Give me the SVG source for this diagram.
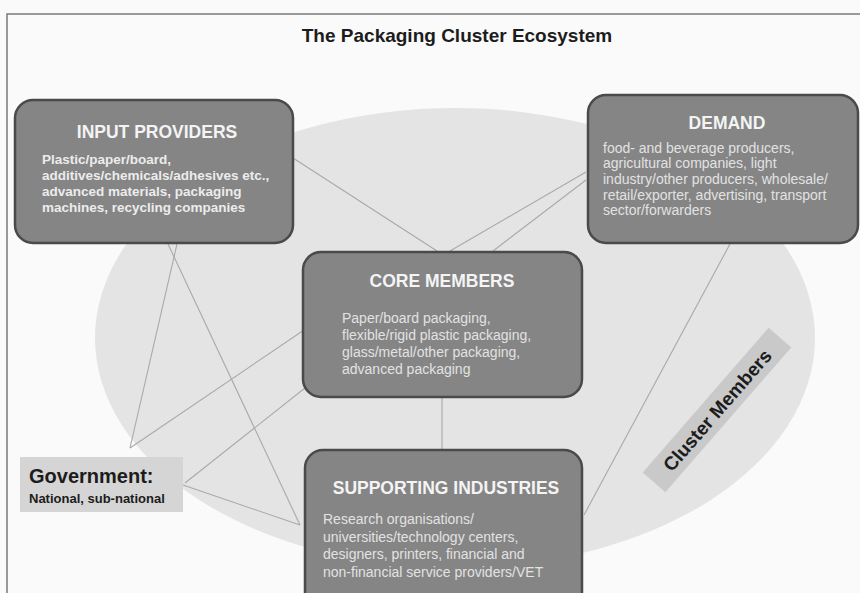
<svg xmlns="http://www.w3.org/2000/svg" width="860" height="593" viewBox="0 0 860 593">
<style>
.box{fill:#858585;stroke:#4a4a4a;stroke-width:2.5}
.ttl{font-family:"Liberation Sans",Arial,sans-serif;font-size:17.5px;font-weight:bold;fill:#f4f4f4;text-anchor:middle}
.bd{font-family:"Liberation Sans",Arial,sans-serif;font-size:14px;fill:#e2e2e2}
.bdb{font-family:"Liberation Sans",Arial,sans-serif;font-size:13.5px;fill:#ececec;font-weight:bold}
.dk{font-family:"Liberation Sans",Arial,sans-serif;font-weight:bold;fill:#1c1c1c}
.cn{stroke:#a9a9a9;stroke-width:1.1;fill:none}
</style>
<rect width="860" height="593" fill="#fafafa"/>
<path d="M7 593 V14 H860" fill="none" stroke="#7a7a7a" stroke-width="1.5"/>
<text class="dk" x="457" y="42" font-size="19" text-anchor="middle">The Packaging Cluster Ecosystem</text>
<ellipse cx="455" cy="338" rx="360" ry="230" fill="#e4e4e4"/>
<g id="connectors">
<line class="cn" x1="168" y1="244" x2="300" y2="525"/>
<line class="cn" x1="177" y1="244" x2="130" y2="448"/>
<line class="cn" x1="130" y1="448" x2="304" y2="330"/>
<line class="cn" x1="185" y1="483" x2="305" y2="388"/>
<line class="cn" x1="183" y1="485" x2="300" y2="525"/>
<line class="cn" x1="293" y1="158" x2="437" y2="251"/>
<line class="cn" x1="450" y1="251" x2="586" y2="172"/>
<line class="cn" x1="493" y1="251" x2="586" y2="180"/>
<line class="cn" x1="730" y1="244" x2="584" y2="515"/>
<line class="cn" x1="442" y1="397" x2="442" y2="451"/>
</g>
<g id="input-providers">
<rect class="box" x="15" y="100" width="278" height="143" rx="18"/>
<text class="ttl" x="157" y="138">INPUT PROVIDERS</text>
<text class="bdb" x="42" y="164">Plastic/paper/board,</text>
<text class="bdb" x="42" y="180">additives/chemicals/adhesives etc.,</text>
<text class="bdb" x="42" y="196">advanced materials, packaging</text>
<text class="bdb" x="42" y="212">machines, recycling companies</text>
</g>
<g id="demand">
<rect class="box" x="588" y="95" width="270" height="148" rx="18"/>
<text class="ttl" x="727" y="129" font-size="19.5">DEMAND</text>
<text class="bd" x="603" y="153">food- and beverage producers,</text>
<text class="bd" x="603" y="168">agricultural companies, light</text>
<text class="bd" x="603" y="184">industry/other producers, wholesale/</text>
<text class="bd" x="603" y="200">retail/exporter, advertising, transport</text>
<text class="bd" x="603" y="215">sector/forwarders</text>
</g>
<g id="core-members">
<rect class="box" x="303" y="252" width="279" height="145" rx="18"/>
<text class="ttl" x="442" y="287">CORE MEMBERS</text>
<text class="bd" x="342" y="323">Paper/board packaging,</text>
<text class="bd" x="342" y="340">flexible/rigid plastic packaging,</text>
<text class="bd" x="342" y="357">glass/metal/other packaging,</text>
<text class="bd" x="342" y="374">advanced packaging</text>
</g>
<g id="supporting-industries">
<rect class="box" x="305" y="450" width="277" height="160" rx="18"/>
<text class="ttl" x="446" y="494">SUPPORTING INDUSTRIES</text>
<text class="bd" x="323" y="524">Research organisations/</text>
<text class="bd" x="323" y="542">universities/technology centers,</text>
<text class="bd" x="323" y="559">designers, printers, financial and</text>
<text class="bd" x="323" y="577">non-financial service providers/VET</text>
</g>
<g id="government">
<rect x="20" y="457" width="163" height="55" fill="#d5d5d5"/>
<text class="dk" x="29" y="483" font-size="20">Government:</text>
<text class="dk" x="29" y="503" font-size="13">National, sub-national</text>
</g>
<g id="cluster-members" transform="translate(717,410) rotate(-49)">
<rect x="-96" y="-15" width="192" height="30" fill="#c9c9c9"/>
<text class="dk" x="0" y="7" font-size="19" text-anchor="middle">Cluster Members</text>
</g>
</svg>
